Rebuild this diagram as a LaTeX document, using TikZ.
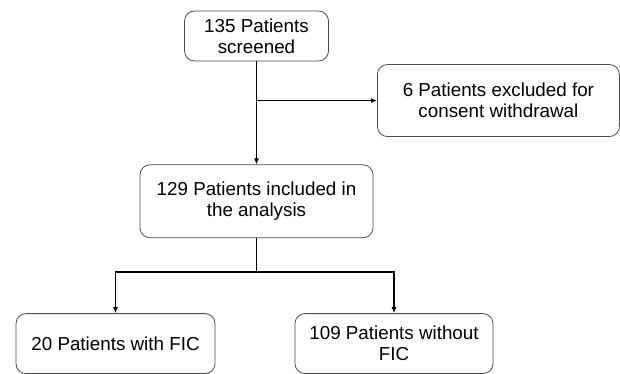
\documentclass[tikz,border=0pt]{standalone}
\usepackage{fontspec}
\setmainfont{Liberation Sans}
\usetikzlibrary{arrows.meta,positioning,calc}

\tikzset{
  stage/.style={draw=black!70, line width=0.8pt, rounded corners=10pt, align=center,
    font=\fontsize{18.8}{21}\selectfont, inner sep=2pt},
  flow/.style={-{Latex[length=6pt,width=5pt]}, line width=1.7pt}
}

\begin{document}
\begin{tikzpicture}
    \useasboundingbox (0pt,0pt) rectangle (620pt,-374pt);

    % Nodes
    \node[stage, minimum width=144pt, minimum height=50pt] (screened) at (256.5pt,-36pt) {135 Patients\\screened};
    \node[stage, minimum width=233pt, minimum height=73pt, below=103pt of screened] (included) {129 Patients included in\\the analysis};
    \coordinate (split) at ($(screened.south)!0.38!(included.north)$);
    \node[stage, minimum width=242pt, minimum height=72pt, right=120.5pt of split] (excluded) {6 Patients excluded for\\consent withdrawal};
    \node[stage, minimum width=199pt, minimum height=60pt, below=75pt of included, xshift=-141pt] (withfic) {20 Patients with FIC};
    \node[stage, minimum width=198pt, minimum height=60pt, below=75pt of included, xshift=137.5pt] (withoutfic) {109 Patients without\\FIC};
    \coordinate[below=34pt of included.south] (fork);

    % Edges
    \draw[flow] (screened.south) -- (included.north);
    \draw[flow] (split) -- (excluded.west);
    \draw[line width=1.7pt] (included.south) -- (fork);
    \draw[flow] (fork) -| (withfic.north);
    \draw[flow] (fork) -| (withoutfic.north);
\end{tikzpicture}
\end{document}
